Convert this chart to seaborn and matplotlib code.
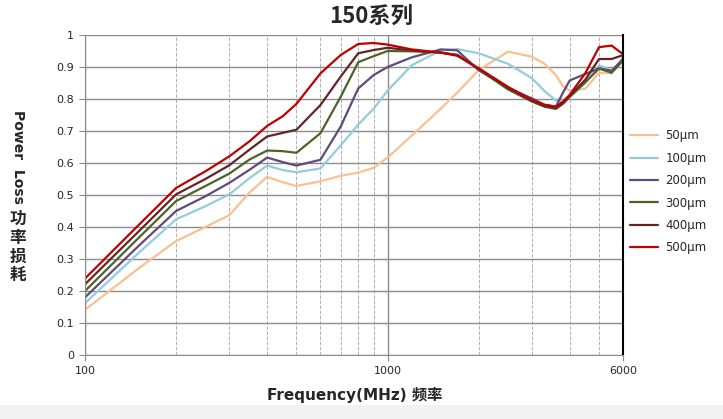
import numpy as np
import pandas as pd
import seaborn as sns
import matplotlib.pyplot as plt
from matplotlib.patches import Rectangle
from matplotlib.ticker import FixedLocator, NullFormatter

freq = [100, 150, 200, 250, 300, 350, 400, 450, 500, 600, 700, 800, 900, 1000,
        1200, 1500, 1700, 2000, 2500, 3000, 3300, 3600, 3800, 4000, 4500, 5000, 5500, 6000]

sizes = ['50µm', '100µm', '200µm', '300µm', '400µm', '500µm']

loss_50 = [0.141, 0.27, 0.356, 0.40, 0.437, 0.508, 0.557, 0.54, 0.528, 0.543, 0.56, 0.57, 0.585, 0.617,
           0.685, 0.77, 0.82, 0.89, 0.948, 0.932, 0.91, 0.875, 0.84, 0.826, 0.832, 0.882, 0.88, 0.93]
loss_100 = [0.162, 0.318, 0.424, 0.465, 0.502, 0.553, 0.592, 0.578, 0.571, 0.583, 0.655, 0.72, 0.77, 0.826,
            0.905, 0.952, 0.956, 0.943, 0.91, 0.865, 0.825, 0.795, 0.79, 0.805, 0.85, 0.905, 0.89, 0.92]
loss_200 = [0.18, 0.34, 0.45, 0.496, 0.538, 0.579, 0.617, 0.603, 0.592, 0.61, 0.714, 0.833, 0.875, 0.90,
            0.93, 0.955, 0.952, 0.89, 0.835, 0.802, 0.782, 0.776, 0.82, 0.858, 0.878, 0.896, 0.888, 0.925]
loss_300 = [0.20, 0.365, 0.481, 0.528, 0.567, 0.611, 0.639, 0.637, 0.632, 0.693, 0.807, 0.915, 0.934, 0.95,
            0.949, 0.945, 0.938, 0.893, 0.83, 0.792, 0.776, 0.769, 0.785, 0.807, 0.852, 0.895, 0.882, 0.92]
loss_400 = [0.221, 0.385, 0.502, 0.55, 0.593, 0.642, 0.683, 0.694, 0.704, 0.781, 0.87, 0.943, 0.953, 0.96,
            0.952, 0.945, 0.937, 0.895, 0.835, 0.795, 0.778, 0.772, 0.787, 0.81, 0.86, 0.925, 0.925, 0.937]
loss_500 = [0.239, 0.405, 0.522, 0.574, 0.621, 0.668, 0.716, 0.746, 0.785, 0.88, 0.9375, 0.972, 0.975, 0.97,
            0.955, 0.945, 0.935, 0.896, 0.838, 0.797, 0.782, 0.776, 0.792, 0.813, 0.88, 0.962, 0.967, 0.94]

colors = ['#FAC090', '#93CDDD', '#604A7B', '#4F6228', '#632523', '#C00000']

series = [loss_50, loss_100, loss_200, loss_300, loss_400, loss_500]
df = pd.concat([pd.DataFrame({'freq': freq, 'loss': s, 'size': name})
                for name, s in zip(sizes, series)], ignore_index=True)

sns.set_style('white')
plt.rcParams['font.family'] = ['DejaVu Sans', 'Noto Sans CJK SC']

fig = plt.figure(figsize=(7.23, 4.19), dpi=100)
fig.patches.append(Rectangle((0, 0), 1, 14 / 419, transform=fig.transFigure,
                             facecolor='#f2f2f2', edgecolor='none', zorder=-1))
ax = fig.add_axes([85 / 723, 64 / 419, 538 / 723, 320 / 419])

sns.lineplot(data=df, x='freq', y='loss', hue='size', palette=colors,
             linewidth=1.6, ax=ax, legend=True)

ax.set_xscale('log')
ax.set_xlim(100, 6000)
ax.set_ylim(0, 1)
ax.set_xticks([100, 1000, 6000])
ax.set_xticklabels(['100', '1000', '6000'])
minor = [200, 300, 400, 500, 600, 700, 800, 900, 2000, 3000, 4000, 5000]
ax.xaxis.set_minor_locator(FixedLocator(minor))
ax.xaxis.set_minor_formatter(NullFormatter())
ax.set_yticks(np.arange(0, 1.01, 0.1))
ax.set_yticklabels(['0'] + [f'{v:.1f}' for v in np.arange(0.1, 0.95, 0.1)] + ['1'])

ax.grid(axis='y', which='major', color='#8c8c8c', linewidth=1)
ax.grid(axis='x', which='major', color='#8c8c8c', linewidth=1)
ax.grid(axis='x', which='minor', color='#b0b0b0', linestyle='--', linewidth=0.7)
ax.tick_params(axis='both', which='major', labelsize=8, length=4, color='#8c8c8c',
               direction='out', left=True, bottom=True, pad=4)
ax.tick_params(axis='x', which='minor', length=0)
for side in ['left', 'bottom']:
    ax.spines[side].set_color('#8c8c8c')
ax.spines['top'].set_visible(False)
ax.spines['right'].set_color('black')
ax.spines['right'].set_linewidth(1.5)
ax.set_xlabel('')
ax.set_ylabel('')

handles, labels = ax.get_legend_handles_labels()
ax.legend(handles, labels, loc='center left', bbox_to_anchor=(1.0, 0.51), frameon=False,
          fontsize=8.5, handlelength=2.4, handletextpad=0.6, labelspacing=0.8,
          borderaxespad=0.2)

fig.text(371 / 723, 1 - 17 / 419, '150系列', ha='center', va='center', fontsize=16,
         fontweight='bold', family=['Noto Sans CJK SC'])
fig.text(355 / 723, 1 - 395 / 419, 'Frequency(MHz) 频率', ha='center', va='center',
         fontsize=11, fontweight='bold', family=['DejaVu Sans', 'Noto Sans CJK SC'])
fig.text(18 / 723, 1 - 157 / 419, 'Power  Loss', ha='center', va='center', rotation=-90,
         fontsize=10, fontweight='bold')
fig.text(18 / 723, 1 - 247 / 419, '功\n率\n损\n耗', ha='center', va='center',
         fontsize=12, fontweight='bold', linespacing=1.05, family=['Noto Sans CJK SC'])

fig.savefig('out.png', dpi=100)
